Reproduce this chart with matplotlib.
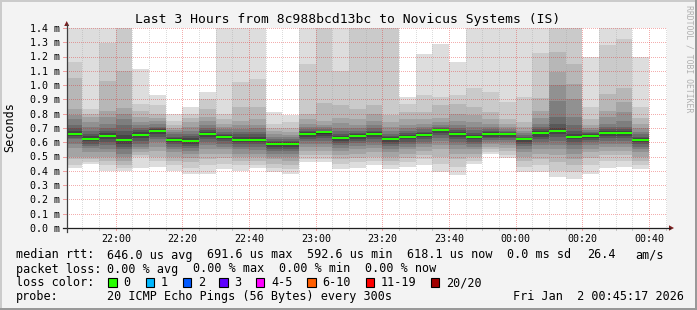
import matplotlib
matplotlib.use("Agg")
import matplotlib.pyplot as plt
from matplotlib.patches import Rectangle, Polygon
from matplotlib.lines import Line2D
from matplotlib.transforms import ScaledTranslation

W, H, DPI = 697, 310, 100
MONO = "DejaVu Sans Mono"

title = "Last 3 Hours from 8c988bcd13bc to Novicus Systems (IS)"

# time axis in minutes since midnight of the first day
first_bin_start = 21 * 60 + 45
bin_minutes = 5
view_start = 21 * 60 + 45 + 17 / 60
view_end = 24 * 60 + 45 + 17 / 60

# median rtt per 5-minute bin (ms)
median = [0.658, 0.623, 0.646, 0.616, 0.653, 0.679, 0.616, 0.609, 0.658, 0.639,
          0.616, 0.616, 0.590, 0.590, 0.658, 0.672, 0.630, 0.646, 0.656, 0.623,
          0.639, 0.653, 0.686, 0.658, 0.639, 0.658, 0.658, 0.623, 0.667, 0.681,
          0.639, 0.646, 0.667, 0.667, 0.616]

# 20 sorted ping rtts per bin (ms)
pings = [
    [0.42, 0.44, 0.48, 0.50, 0.56, 0.59, 0.62, 0.63, 0.645, 0.655, 0.665, 0.68, 0.70, 0.72, 0.76, 0.79, 0.83, 1.05, 1.16, 1.5],
    [0.45, 0.46, 0.485, 0.50, 0.535, 0.56, 0.575, 0.59, 0.61, 0.62, 0.63, 0.645, 0.66, 0.68, 0.71, 0.74, 0.78, 0.80, 0.83, 1.5],
    [0.40, 0.44, 0.47, 0.50, 0.53, 0.555, 0.58, 0.60, 0.62, 0.64, 0.652, 0.665, 0.68, 0.70, 0.73, 0.78, 0.82, 1.03, 1.295, 1.5],
    [0.40, 0.42, 0.44, 0.47, 0.50, 0.52, 0.55, 0.57, 0.59, 0.61, 0.625, 0.65, 0.68, 0.72, 0.76, 0.80, 0.84, 1.10, 1.45, 1.5],
    [0.42, 0.50, 0.51, 0.53, 0.55, 0.57, 0.59, 0.61, 0.63, 0.645, 0.658, 0.67, 0.685, 0.70, 0.72, 0.74, 0.78, 0.82, 0.87, 1.11],
    [0.43, 0.47, 0.50, 0.54, 0.57, 0.60, 0.62, 0.64, 0.66, 0.675, 0.682, 0.69, 0.70, 0.71, 0.73, 0.75, 0.77, 0.80, 0.86, 0.93],
    [0.40, 0.44, 0.47, 0.50, 0.53, 0.55, 0.57, 0.585, 0.60, 0.612, 0.62, 0.63, 0.64, 0.655, 0.67, 0.685, 0.70, 0.72, 0.75, 0.80],
    [0.38, 0.42, 0.46, 0.49, 0.52, 0.54, 0.56, 0.575, 0.59, 0.605, 0.617, 0.63, 0.645, 0.66, 0.68, 0.71, 0.74, 0.77, 0.80, 0.85],
    [0.38, 0.44, 0.48, 0.52, 0.55, 0.58, 0.60, 0.62, 0.635, 0.65, 0.665, 0.675, 0.685, 0.70, 0.72, 0.75, 0.78, 0.83, 0.90, 0.955],
    [0.41, 0.45, 0.49, 0.52, 0.55, 0.57, 0.59, 0.61, 0.62, 0.635, 0.643, 0.65, 0.66, 0.675, 0.69, 0.71, 0.73, 0.76, 0.80, 1.5],
    [0.40, 0.44, 0.47, 0.50, 0.52, 0.55, 0.57, 0.585, 0.60, 0.612, 0.625, 0.64, 0.655, 0.67, 0.69, 0.72, 0.75, 0.85, 1.02, 1.5],
    [0.42, 0.44, 0.47, 0.50, 0.52, 0.545, 0.565, 0.585, 0.60, 0.612, 0.625, 0.64, 0.655, 0.675, 0.70, 0.72, 0.76, 0.85, 1.04, 1.5],
    [0.39, 0.42, 0.45, 0.48, 0.50, 0.52, 0.54, 0.555, 0.57, 0.585, 0.595, 0.60, 0.61, 0.625, 0.64, 0.66, 0.68, 0.70, 0.73, 0.81],
    [0.38, 0.41, 0.44, 0.47, 0.50, 0.52, 0.54, 0.555, 0.57, 0.585, 0.595, 0.60, 0.61, 0.62, 0.635, 0.65, 0.675, 0.70, 0.74, 0.79],
    [0.46, 0.48, 0.51, 0.54, 0.57, 0.59, 0.61, 0.625, 0.64, 0.652, 0.662, 0.67, 0.68, 0.695, 0.71, 0.73, 0.76, 0.80, 1.15, 1.5],
    [0.46, 0.48, 0.51, 0.54, 0.57, 0.59, 0.61, 0.63, 0.645, 0.66, 0.67, 0.675, 0.68, 0.69, 0.705, 0.72, 0.75, 0.875, 1.45, 1.5],
    [0.41, 0.45, 0.48, 0.51, 0.54, 0.56, 0.58, 0.595, 0.61, 0.625, 0.635, 0.645, 0.66, 0.68, 0.70, 0.735, 0.77, 0.86, 1.10, 1.5],
    [0.42, 0.46, 0.49, 0.52, 0.55, 0.575, 0.595, 0.61, 0.625, 0.64, 0.648, 0.655, 0.665, 0.68, 0.70, 0.72, 0.76, 0.83, 1.45, 1.5],
    [0.44, 0.47, 0.50, 0.53, 0.56, 0.58, 0.60, 0.62, 0.635, 0.65, 0.66, 0.67, 0.68, 0.70, 0.72, 0.75, 0.80, 0.86, 1.45, 1.5],
    [0.41, 0.44, 0.47, 0.50, 0.53, 0.555, 0.575, 0.59, 0.605, 0.618, 0.628, 0.635, 0.645, 0.66, 0.68, 0.71, 0.74, 0.79, 1.45, 1.5],
    [0.43, 0.46, 0.49, 0.52, 0.55, 0.57, 0.59, 0.605, 0.62, 0.635, 0.643, 0.652, 0.665, 0.68, 0.70, 0.72, 0.76, 0.81, 0.87, 0.92],
    [0.44, 0.48, 0.51, 0.54, 0.565, 0.585, 0.605, 0.62, 0.635, 0.648, 0.658, 0.665, 0.675, 0.69, 0.71, 0.73, 0.76, 0.81, 0.93, 1.22],
    [0.39, 0.45, 0.50, 0.55, 0.58, 0.61, 0.63, 0.65, 0.665, 0.68, 0.688, 0.693, 0.70, 0.71, 0.72, 0.74, 0.77, 0.86, 0.92, 1.29],
    [0.37, 0.43, 0.48, 0.52, 0.55, 0.58, 0.60, 0.62, 0.64, 0.652, 0.662, 0.672, 0.685, 0.70, 0.72, 0.75, 0.80, 0.87, 0.93, 1.16],
    [0.445, 0.47, 0.50, 0.52, 0.55, 0.57, 0.59, 0.605, 0.62, 0.635, 0.643, 0.652, 0.665, 0.685, 0.71, 0.74, 0.79, 0.85, 0.98, 1.5],
    [0.515, 0.535, 0.55, 0.57, 0.585, 0.60, 0.615, 0.628, 0.64, 0.652, 0.662, 0.67, 0.68, 0.695, 0.71, 0.73, 0.76, 0.81, 0.95, 1.5],
    [0.49, 0.51, 0.54, 0.56, 0.58, 0.60, 0.615, 0.628, 0.64, 0.652, 0.66, 0.665, 0.672, 0.68, 0.695, 0.71, 0.73, 0.76, 0.88, 1.5],
    [0.39, 0.43, 0.47, 0.50, 0.53, 0.555, 0.575, 0.59, 0.605, 0.618, 0.627, 0.632, 0.64, 0.65, 0.665, 0.68, 0.71, 0.74, 0.92, 1.5],
    [0.39, 0.44, 0.48, 0.52, 0.55, 0.58, 0.60, 0.62, 0.64, 0.66, 0.672, 0.682, 0.695, 0.71, 0.73, 0.77, 0.82, 0.91, 1.225, 1.5],
    [0.355, 0.40, 0.46, 0.51, 0.55, 0.58, 0.61, 0.635, 0.655, 0.675, 0.685, 0.70, 0.73, 0.78, 0.89, 1.0, 1.09, 1.23, 1.45, 1.5],
    [0.34, 0.39, 0.44, 0.48, 0.52, 0.55, 0.58, 0.60, 0.62, 0.635, 0.645, 0.66, 0.68, 0.72, 0.78, 0.90, 1.01, 1.15, 1.45, 1.5],
    [0.375, 0.44, 0.49, 0.53, 0.555, 0.58, 0.60, 0.615, 0.63, 0.642, 0.65, 0.655, 0.662, 0.672, 0.685, 0.70, 0.72, 0.76, 0.85, 1.20],
    [0.42, 0.47, 0.51, 0.54, 0.565, 0.59, 0.61, 0.63, 0.645, 0.66, 0.672, 0.682, 0.695, 0.71, 0.73, 0.78, 0.82, 0.94, 1.28, 1.5],
    [0.43, 0.47, 0.51, 0.54, 0.57, 0.59, 0.61, 0.63, 0.645, 0.66, 0.672, 0.682, 0.695, 0.71, 0.75, 0.81, 0.88, 0.98, 1.32, 1.5],
    [0.41, 0.44, 0.47, 0.50, 0.53, 0.55, 0.57, 0.585, 0.60, 0.612, 0.62, 0.628, 0.64, 0.655, 0.675, 0.70, 0.73, 0.77, 0.85, 1.20],
]

y_ticks = [0.0, 0.1, 0.2, 0.3, 0.4, 0.5, 0.6, 0.7, 0.8, 0.9, 1.0, 1.1, 1.2, 1.3, 1.4]
x_major = [1320, 1340, 1360, 1380, 1400, 1420, 1440, 1460, 1480]
x_major_labels = ["22:00", "22:20", "22:40", "23:00", "23:20", "23:40", "00:00", "00:20", "00:40"]

legend_rows = [
    [(16, "median rtt:"), (107.3, "646.0 us avg"), (207.3, "691.6 us max"),
     (306.7, "592.6 us min"), (407.3, "618.1 us now"), (507.3, "0.0 ms sd"),
     (586.7, "26.4"), (635.7, "am/s")],
    [(16, "packet loss:"), (107.3, "0.00 % avg"), (193.3, "0.00 % max"),
     (279.3, "0.00 % min"), (365.0, "0.00 % now")],
    [(16, "loss color:")],
    [(16, "probe:"), (107.3, "20 ICMP Echo Pings (56 Bytes) every 300s"),
     (513.3, "Fri Jan  2 00:45:17 2026")],
]
loss_labels = ["0", "1", "2", "3", "4-5", "6-10", "11-19", "20/20"]
loss_colors = ["#26ff00", "#00b8ff", "#0059ff", "#5e00ff", "#ff00ff", "#ff5e00", "#ff0000", "#a10000"]
loss_x = [108.3, 145.7, 182.7, 219.3, 256.0, 307.3, 365.7, 430.7]

# ---------------------------------------------------------------------------
fig = plt.figure(figsize=(W / DPI, H / DPI), dpi=DPI, facecolor="#f3f3f3")


def P(x, y):
    return (x / W, 1 - y / H)


L, R, T, B = 66.7, 666.7, 28.0, 228.0
ax = fig.add_axes([L / W, 1 - B / H, (R - L) / W, (B - T) / H])
ax.set_facecolor("white")
for s in ax.spines.values():
    s.set_visible(False)
ax.set_xticks([])
ax.set_yticks([])
ax.set_xlim(view_start, view_end)
ax.set_ylim(0, 1.4)

# smoke
n = len(pings)
half = 10
lefts = [first_bin_start + i * bin_minutes for i in range(n)]
for k in range(half):
    g = int(190 / half * (half - (k + 1))) + 50
    col = "#%02x%02x%02x" % (g, g, g)
    bots = [p[k] for p in pings]
    tops = [p[19 - k] for p in pings]
    ax.bar(lefts, [t - b for t, b in zip(tops, bots)], bottom=bots, width=bin_minutes,
           align="edge", color=col, linewidth=0, zorder=1)

# grid (on top of smoke), 1px dotted
dot = (0.36, (0.72, 1.28))
for m in range(1310, 1486, 5):
    if m in x_major:
        continue
    ax.axvline(m, color="#a0a0a0", alpha=0.5, lw=0.72, ls=dot, zorder=2)
for m in x_major:
    ax.axvline(m, color="#e02020", alpha=0.5, lw=0.72, ls=dot, zorder=2)
for v in y_ticks[1:]:
    ax.axhline(v, color="#e02020", alpha=0.5, lw=0.72, ls=dot, zorder=2)

# median bands
mh = 0.016
ax.bar(lefts, [mh] * n, bottom=[m - mh / 2 for m in median], width=bin_minutes,
       align="edge", color="#26ff00", linewidth=0, zorder=3)

# small tick marks below x axis / left of y axis
xt = ax.get_xaxis_transform()
for m in range(1310, 1486, 5):
    c = "#f0a0a0" if m in x_major else "#c8c8c8"
    ax.plot([m, m], [0, -0.012], transform=xt, color=c, lw=0.72, clip_on=False, zorder=4)
yt = ax.get_yaxis_transform()
for v in y_ticks[1:]:
    ax.plot([-0.006, 0], [v, v], transform=yt, color="#f0a0a0", lw=0.72, clip_on=False, zorder=4)

# tick labels
for v in y_ticks:
    tr = yt + ScaledTranslation(-6.7 / DPI, -3.9 / DPI, fig.dpi_scale_trans)
    ax.text(0, v, "%.1f m" % v, transform=tr, ha="right", va="baseline",
            family=MONO, fontsize=7.2, color="black")
for m, lab in zip(x_major, x_major_labels):
    tr = xt + ScaledTranslation(0, -13.7 / DPI, fig.dpi_scale_trans)
    ax.text(m, 0, lab, transform=tr, ha="center", va="baseline",
            family=MONO, fontsize=7.2, color="black")

# axes lines with arrows
fig.add_artist(Line2D([P(63, 228)[0], P(670, 228)[0]], [P(63, 228)[1]] * 2,
                      transform=fig.transFigure, color="#202020", lw=0.9))
fig.add_artist(Line2D([P(66.7, 0)[0]] * 2, [P(0, 232)[1], P(0, 24)[1]],
                      transform=fig.transFigure, color="#404040", lw=0.9))
fig.add_artist(Polygon([P(669, 225.3), P(674, 228), P(669, 230.7)], closed=True,
                       transform=fig.transFigure, color="#7f1f1f", lw=0))
fig.add_artist(Polygon([P(64.2, 26), P(66.7, 21), P(69.2, 26)], closed=True,
                       transform=fig.transFigure, color="#7f1f1f", lw=0))

# texts
fig.text(*P(348, 22.8), title, ha="center", va="baseline", family=MONO, fontsize=9.4, color="black")
fig.text(*P(10, 127), "Seconds", rotation=90, ha="center", va="center", family=MONO,
         fontsize=8.5, color="black")
fig.text(*P(688.5, 5), "RRDTOOL / TOBI OETIKER", rotation=270, ha="center", va="top",
         family=MONO, fontsize=5.9, color="#b0b0b0")

baselines = [258.5, 272.5, 286.5, 300.3]
for row, yb in zip(legend_rows, baselines):
    for x, s in row:
        fig.text(*P(x, yb), s, ha="left", va="baseline", family=MONO, fontsize=8.5, color="black")

for x, lab, c in zip(loss_x, loss_labels, loss_colors):
    fig.add_artist(Rectangle(P(x, 286.7), 8.3 / W, 8.3 / H, transform=fig.transFigure,
                             facecolor=c, edgecolor="black", lw=0.8))
    fig.text(*P(x + 15, baselines[2]), lab, ha="left", va="baseline", family=MONO,
             fontsize=8.5, color="black")

# 3D frame
fig.add_artist(Line2D([0, 1], [P(0, 1)[1]] * 2, transform=fig.transFigure, color="#cbcbcb", lw=1.44))
fig.add_artist(Line2D([P(1, 0)[0]] * 2, [0, 1], transform=fig.transFigure, color="#cbcbcb", lw=1.44))
fig.add_artist(Line2D([0, 1], [P(0, 309)[1]] * 2, transform=fig.transFigure, color="#999999", lw=1.44))
fig.add_artist(Line2D([P(696, 0)[0]] * 2, [0, 1], transform=fig.transFigure, color="#999999", lw=1.44))

fig.savefig("out.png", dpi=DPI, facecolor=fig.get_facecolor())
